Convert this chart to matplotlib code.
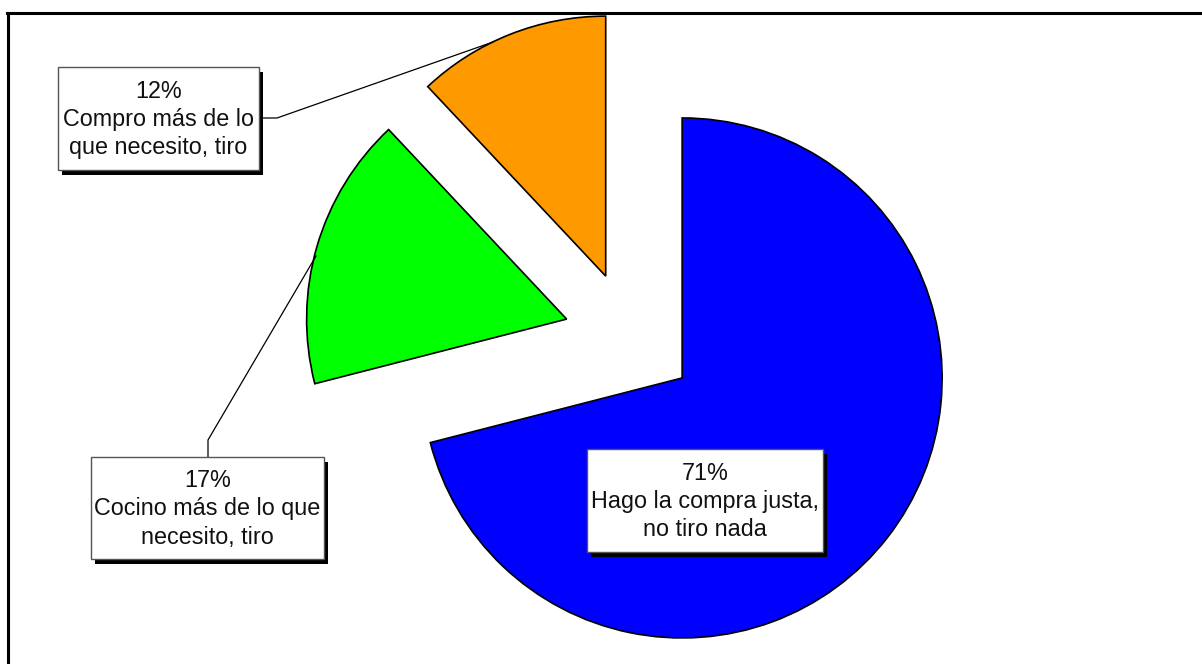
import matplotlib.pyplot as plt
from matplotlib.patches import Rectangle
from matplotlib.lines import Line2D

plt.rcParams['font.family'] = ['Liberation Sans', 'DejaVu Sans']

# Survey answers (percent)
labels = ["Hago la compra justa,\nno tiro nada",
          "Cocino más de lo que\nnecesito, tiro",
          "Compro más de lo\nque necesito, tiro"]
values = [71, 17, 12]
colors = ["#0000FF", "#00FF00", "#FF9900"]

W, H = 1202, 664


def Y(y):
    # pixel row (top = 0) to axis units
    return H - y


fig = plt.figure(figsize=(W / 100, H / 100), dpi=100)
ax = fig.add_axes([0, 0, 1, 1])

wedges, _ = ax.pie(values, colors=colors, startangle=90, counterclock=False,
                   explode=[66, 66, 66], center=(630, Y(337.5)), radius=260,
                   wedgeprops=dict(edgecolor="black", linewidth=1.2))

# pie() resets the limits, so set them afterwards
ax.set_xlim(0, W)
ax.set_ylim(0, H)
ax.set_aspect("equal")
ax.axis("off")

# label boxes: (x0, y0, x1, y1) in pixel rows, with drop shadow
boxes = [(587, 449, 823, 552), (91, 457, 324, 559), (58, 67, 259, 170)]
for (x0, y0, x1, y1), lab, v in zip(boxes, labels, values):
    ax.add_patch(Rectangle((x0 + 4, Y(y1 + 5)), x1 - x0, y1 - y0,
                           facecolor="black", edgecolor="none", zorder=5))
    ax.add_patch(Rectangle((x0, Y(y1)), x1 - x0, y1 - y0,
                           facecolor="white", edgecolor="#555555",
                           linewidth=1, zorder=6))
    ax.text((x0 + x1) / 2, Y((y0 + y1) / 2 + 1), f"{v}%\n{lab}",
            ha="center", va="center", fontsize=16.8, linespacing=1.3,
            color="#111111", zorder=7)

# leader lines
ax.plot([259, 277, 493], [Y(118), Y(118), Y(42)], color="black", lw=0.9, zorder=4)
ax.plot([208, 208, 316], [Y(457), Y(440), Y(256)], color="black", lw=0.9, zorder=4)

# chart frame (top and left edges)
fig.add_artist(Line2D([7 / W, 1], [1 - 12.5 / H, 1 - 12.5 / H],
                      color="black", lw=2.2))
fig.add_artist(Line2D([7.5 / W, 7.5 / W], [0, 1 - 12.5 / H],
                      color="black", lw=2.2))

fig.savefig("out.png", dpi=100)
